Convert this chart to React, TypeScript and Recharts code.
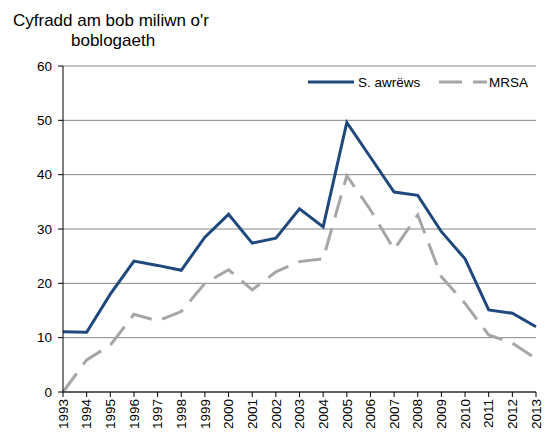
import React from 'react';
import { LineChart, Line, XAxis, YAxis, CartesianGrid, Legend } from 'recharts';

const years = ['1993','1994','1995','1996','1997','1998','1999','2000','2001','2002','2003','2004','2005','2006','2007','2008','2009','2010','2011','2012','2013'];
const saureus = [11.1, 11.0, 18.0, 24.1, 23.3, 22.4, 28.5, 32.7, 27.4, 28.3, 33.7, 30.4, 49.6, 43.2, 36.8, 36.2, 29.5, 24.5, 15.1, 14.5, 12.0];
const mrsa = [0, 5.9, 8.6, 14.3, 13.1, 14.8, 20.0, 22.5, 18.8, 22.1, 24.0, 24.5, 39.8, 33.5, 26.2, 32.6, 21.2, 16.3, 10.5, 9.0, 6.1];
const yTicks = [0, 10, 20, 30, 40, 50, 60];
const seriesNames = ['S. awrëws', 'MRSA'];

const data = years.map((y, i) => ({ year: y, sa: saureus[i], mrsa: mrsa[i] }));

const FONT = '"Liberation Sans", Arial, sans-serif';
const BLUE = '#1F497D';
const GRAY = '#A6A6A6';

const XTick = (props: any) => {
  const { x, y, payload } = props;
  return (
    <g transform={`translate(${x},${y})`}>
      <text transform="rotate(-90)" textAnchor="end" dy="0.35em" x={0} y={0} fill="#000" fontSize={13.5} fontFamily={FONT}>
        {payload.value}
      </text>
    </g>
  );
};

const renderLegend = () => (
  <svg width={240} height={20} style={{ display: 'block' }}>
    <line x1={8} y1={10} x2={54} y2={10} stroke={BLUE} strokeWidth={3} />
    <text x={58} y={14.5} fontSize={13.5} fontFamily={FONT} fill="#000">{seriesNames[0]}</text>
    <line x1={139} y1={10} x2={187} y2={10} stroke={GRAY} strokeWidth={3} strokeDasharray="23 11" />
    <text x={189} y={14.5} fontSize={13.5} fontFamily={FONT} fill="#000">{seriesNames[1]}</text>
  </svg>
);

export default function App() {
  return (
    <div style={{ position: 'relative', width: 545, height: 430, fontFamily: FONT }}>
      <svg style={{ position: 'absolute', left: 0, top: 0 }} width={300} height={50}>
        <text x={5} y={18} fontSize={17} fontFamily={FONT} fill="#000">Cyfradd am bob miliwn o'r</text>
        <text x={63} y={38} fontSize={17} fontFamily={FONT} fill="#000">boblogaeth</text>
      </svg>
      <LineChart width={545} height={430} data={data} margin={{ top: 58, right: 17, left: 0, bottom: 0 }}>
        <CartesianGrid horizontal={true} vertical={false} stroke="#868686" strokeWidth={1} />
        <XAxis
          dataKey="year"
          interval={0}
          height={46}
          tick={<XTick />}
          tickSize={5}
          tickMargin={2}
          axisLine={{ stroke: '#000' }}
          tickLine={{ stroke: '#000' }}
        />
        <YAxis
          domain={[0, 60]}
          ticks={yTicks}
          width={55}
          tickSize={5}
          tickMargin={6}
          axisLine={{ stroke: '#000' }}
          tickLine={{ stroke: '#000' }}
          tick={{ fill: '#000', fontSize: 13.5, fontFamily: FONT }}
        />
        <Legend
          layout="horizontal"
          verticalAlign="middle"
          align="center"
          content={renderLegend}
          wrapperStyle={{ position: 'absolute', left: 292, top: 64, width: 240, height: 20 }}
        />
        <Line dataKey="sa" name={seriesNames[0]} stroke={BLUE} strokeWidth={3} dot={false} isAnimationActive={false} strokeLinejoin="miter" />
        <Line dataKey="mrsa" name={seriesNames[1]} stroke={GRAY} strokeWidth={3} dot={false} strokeDasharray="23 11" isAnimationActive={false} />
      </LineChart>
    </div>
  );
}
